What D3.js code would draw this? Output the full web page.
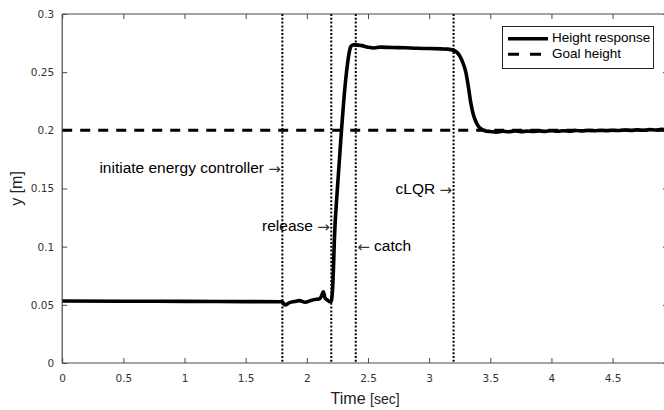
<!DOCTYPE html>
<html>
<head>
<meta charset="utf-8">
<script src="https://cdn.jsdelivr.net/npm/d3@7/dist/d3.min.js"></script>
<style>
  html, body { margin: 0; padding: 0; background: #fff; }
  svg { display: block; }
</style>
</head>
<body>
<script>
// ---- data ----
const timeValues = [0, 0.5, 1.0, 1.5, 1.8, 1.82, 1.86, 1.9, 1.94, 1.985, 2.04, 2.08, 2.1, 2.12, 2.135, 2.15, 2.17, 2.185, 2.2, 2.205, 2.212, 2.218, 2.225, 2.25, 2.28, 2.31, 2.33, 2.345, 2.36, 2.38, 2.4, 2.45, 2.5, 2.55, 2.6, 2.7, 2.8, 2.9, 3.0, 3.1, 3.15, 3.2, 3.25, 3.28, 3.3, 3.32, 3.34, 3.36, 3.38, 3.4, 3.43, 3.46, 3.5, 3.55, 3.6, 3.65, 3.7, 3.75, 3.8, 3.85, 3.9, 3.95, 4.0, 4.05, 4.1, 4.15, 4.2, 4.25, 4.3, 4.35, 4.4, 4.45, 4.5, 4.55, 4.6, 4.65, 4.7, 4.75, 4.8, 4.85, 4.9, 4.96];
const heightValues = [0.0533, 0.0531, 0.0530, 0.0528, 0.0527, 0.0499, 0.0519, 0.0528, 0.0536, 0.0522, 0.0540, 0.0548, 0.0550, 0.0575, 0.0613, 0.0556, 0.0540, 0.0527, 0.0530, 0.0560, 0.0660, 0.0820, 0.1050, 0.1500, 0.1950, 0.2350, 0.2550, 0.2660, 0.2720, 0.2735, 0.2735, 0.2728, 0.2715, 0.2708, 0.2715, 0.2712, 0.2710, 0.2705, 0.2703, 0.2700, 0.2698, 0.2688, 0.2640, 0.2570, 0.2500, 0.2380, 0.2240, 0.2140, 0.2080, 0.2040, 0.2010, 0.1995, 0.1990, 0.1985, 0.1992, 0.1988, 0.1994, 0.1989, 0.1993, 0.1990, 0.1995, 0.1991, 0.1996, 0.1992, 0.1997, 0.1993, 0.1998, 0.1995, 0.1999, 0.1996, 0.2000, 0.1997, 0.2001, 0.1998, 0.2003, 0.2000, 0.2004, 0.2001, 0.2006, 0.2003, 0.2008, 0.2006];
const goalHeight = 0.2;
const eventTimes = [1.8, 2.2, 2.4, 3.2];
const annotations = [
  { text: "initiate energy controller", t: 1.8, y: 0.167, side: "left" },
  { text: "release", t: 2.2, y: 0.117, side: "left" },
  { text: "catch", t: 2.4, y: 0.1, side: "right" },
  { text: "cLQR", t: 3.2, y: 0.149, side: "left" }
];
const xTicks = [0, 0.5, 1, 1.5, 2, 2.5, 3, 3.5, 4, 4.5];
const yTicks = [0, 0.05, 0.1, 0.15, 0.2, 0.25, 0.3];
const xDomain = [0, 4.953];
const yDomain = [0, 0.3];
const legendLabels = ["Height response", "Goal height"];

// ---- layout ----
const W = 664, H = 410;
const mLeft = 62.2, mRight = 668, mTop = 14, mBottom = 363;

const svg = d3.select("body").append("svg").attr("width", W).attr("height", H);
const x = d3.scaleLinear().domain(xDomain).range([mLeft, mRight]);
const y = d3.scaleLinear().domain(yDomain).range([mBottom, mTop]);

svg.append("defs").append("clipPath").attr("id", "clip")
  .append("rect").attr("x", mLeft).attr("y", mTop).attr("width", mRight - mLeft).attr("height", mBottom - mTop);

const axisColor = "#4a4a4a";
const tickFont = "DejaVu Sans, Verdana, sans-serif";

// axes (MATLAB box style, ticks inward)
const gx = svg.append("g").attr("transform", `translate(0,${mBottom})`)
  .call(d3.axisBottom(x).tickValues(xTicks).tickSize(-5).tickPadding(12).tickFormat(d3.format("")));
const gxTop = svg.append("g").attr("transform", `translate(0,${mTop})`)
  .call(d3.axisTop(x).tickValues(xTicks).tickSize(-5).tickFormat(""));
const gy = svg.append("g").attr("transform", `translate(${mLeft},0)`)
  .call(d3.axisLeft(y).tickValues(yTicks).tickSize(-5).tickPadding(8).tickFormat(d3.format("")));
const gyR = svg.append("g").attr("transform", `translate(${mRight},0)`)
  .call(d3.axisRight(y).tickValues(yTicks).tickSize(-5).tickFormat(""));
[gx, gxTop, gy, gyR].forEach(g => {
  g.select(".domain").attr("stroke", axisColor).attr("stroke-width", 1.2);
  g.selectAll(".tick line").attr("stroke", axisColor);
  g.selectAll("text").attr("fill", "#333").style("font-family", tickFont).style("font-size", "10.5px");
});
gx.selectAll(".domain").attr("d", `M${mLeft},0H${mRight}`);
gxTop.selectAll(".domain").attr("d", `M${mLeft},0H${mRight}`);
gy.selectAll(".domain").attr("d", `M0,${mTop}V${mBottom}`);
gyR.selectAll(".domain").attr("d", `M0,${mTop}V${mBottom}`);

const plot = svg.append("g").attr("clip-path", "url(#clip)");

// goal line
plot.append("line")
  .attr("x1", x(0)).attr("x2", x(xDomain[1]))
  .attr("y1", y(goalHeight)).attr("y2", y(goalHeight))
  .attr("stroke", "#000").attr("stroke-width", 3).attr("stroke-dasharray", "10,8");

// event lines
plot.selectAll(".evt").data(eventTimes).enter().append("line")
  .attr("x1", d => x(d)).attr("x2", d => x(d))
  .attr("y1", y(yDomain[1])).attr("y2", y(yDomain[0]))
  .attr("stroke", "#000").attr("stroke-width", 2).attr("stroke-dasharray", "2,1.8");

// response line
const pts = timeValues.map((t, i) => [t, heightValues[i]]);
plot.append("path").datum(pts)
  .attr("fill", "none").attr("stroke", "#000").attr("stroke-width", 3.6)
  .attr("stroke-linejoin", "round")
  .attr("d", d3.line().x(d => x(d[0])).y(d => y(d[1])).curve(d3.curveMonotoneX));

// annotations
const annFont = "Liberation Sans, Arial, sans-serif";
const arrowFont = "DejaVu Sans, sans-serif";
svg.selectAll(".ann").data(annotations).enter().append("text")
  .attr("x", d => d.side === "left" ? x(d.t) - 1.5 : x(d.t) + 1.5)
  .attr("y", d => y(d.y))
  .attr("text-anchor", d => d.side === "left" ? "end" : "start")
  .attr("dominant-baseline", "middle")
  .style("font-family", annFont)
  .style("font-size", "15.5px")
  .attr("fill", "#000")
  .each(function (d) {
    const t = d3.select(this);
    if (d.side === "left") {
      t.append("tspan").text(d.text + " ");
      t.append("tspan").style("font-family", arrowFont).style("font-size", "15px").attr("fill", "#333").text("\u2192");
    } else {
      t.append("tspan").style("font-family", arrowFont).style("font-size", "15px").attr("fill", "#333").text("\u2190");
      t.append("tspan").text(" " + d.text);
    }
  });

// axis labels
const xl = svg.append("text").attr("x", (mLeft + 668) / 2).attr("y", 404)
  .attr("text-anchor", "middle")
  .style("font-family", "Liberation Sans, Arial, sans-serif").attr("fill", "#222");
xl.append("tspan").style("font-size", "16px").text("Time ");
xl.append("tspan").style("font-size", "14px").text("[sec]");

svg.append("text")
  .attr("transform", `translate(22,${(mTop + mBottom) / 2}) rotate(-90)`)
  .attr("text-anchor", "middle")
  .style("font-family", "Liberation Sans, Arial, sans-serif")
  .style("font-size", "16px").attr("fill", "#222")
  .text("y [m]");

// legend
const lg = svg.append("g");
lg.append("rect").attr("x", 502.5).attr("y", 26.5).attr("width", 151).attr("height", 42)
  .attr("fill", "#fff").attr("stroke", "#222").attr("stroke-width", 1);
const legendStyles = [{ dash: null, w: 3.5 }, { dash: "11,11", w: 3 }];
legendLabels.forEach((lab, i) => {
  const ly = 38.7 + i * 15.5;
  lg.append("line").attr("x1", 508).attr("x2", 548).attr("y1", ly).attr("y2", ly)
    .attr("stroke", "#000").attr("stroke-width", legendStyles[i].w)
    .attr("stroke-dasharray", legendStyles[i].dash);
  lg.append("text").attr("x", 552).attr("y", ly).attr("dominant-baseline", "middle")
    .style("font-family", "Liberation Sans, Arial, sans-serif").style("font-size", "13.5px")
    .attr("fill", "#000").text(lab);
});
</script>
</body>
</html>
